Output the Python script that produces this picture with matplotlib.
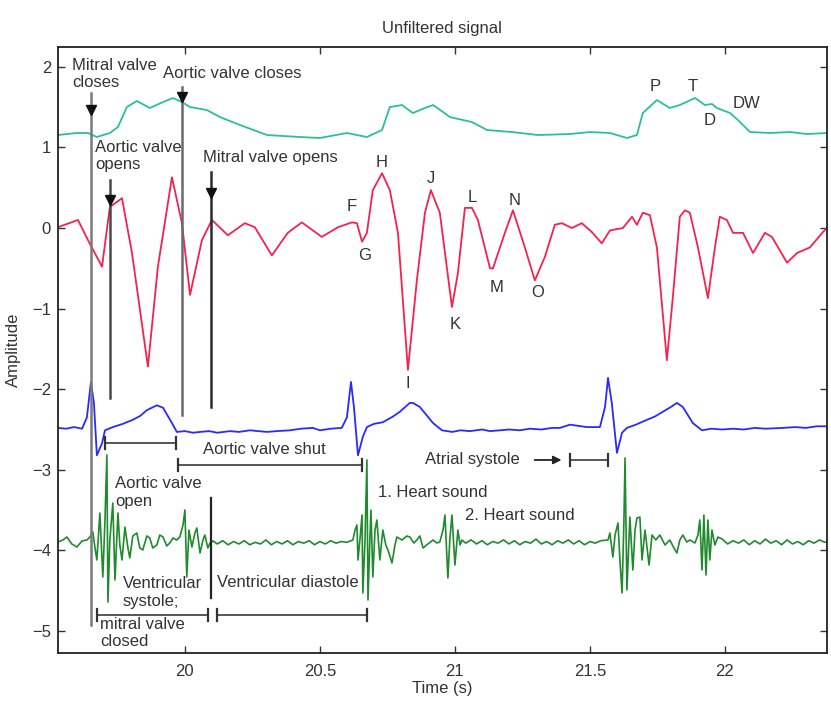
import matplotlib
matplotlib.use('Agg')
import matplotlib.pyplot as plt

plt.rcParams['font.family'] = ['Liberation Sans', 'DejaVu Sans']
plt.rcParams['font.size'] = 12

# ---------------- data ----------------
# upper (cyan) trace
press_t = [19.530, 19.600, 19.641, 19.674, 19.722, 19.752, 19.785, 19.822, 19.870, 19.919,
           19.956, 19.989, 20.019, 20.081, 20.130, 20.204, 20.304, 20.426, 20.500, 20.600,
           20.674, 20.730, 20.759, 20.804, 20.844, 20.889, 20.919, 20.956, 20.981, 21.063,
           21.119, 21.211, 21.307, 21.426, 21.500, 21.574, 21.637, 21.674, 21.696, 21.748,
           21.796, 21.833, 21.889, 21.926, 21.952, 21.970, 22.019, 22.056, 22.093, 22.167,
           22.241, 22.304, 22.378]
press_v = [1.154, 1.179, 1.179, 1.129, 1.179, 1.253, 1.501, 1.576, 1.489, 1.563,
           1.613, 1.563, 1.501, 1.464, 1.377, 1.278, 1.154, 1.129, 1.117, 1.179,
           1.129, 1.216, 1.501, 1.526, 1.427, 1.489, 1.526, 1.439, 1.377, 1.315,
           1.216, 1.191, 1.154, 1.166, 1.191, 1.179, 1.117, 1.154, 1.427, 1.588,
           1.489, 1.526, 1.613, 1.526, 1.539, 1.489, 1.427, 1.315, 1.191, 1.179,
           1.191, 1.166, 1.179]

# red trace
scg_t = [19.530, 19.604, 19.641, 19.693, 19.722, 19.767, 19.804, 19.863, 19.900, 19.952,
         19.989, 20.019, 20.063, 20.100, 20.159, 20.222, 20.259, 20.322, 20.381, 20.433,
         20.507, 20.567, 20.619, 20.637, 20.656, 20.674, 20.696, 20.730, 20.759, 20.789,
         20.826, 20.859, 20.889, 20.911, 20.944, 20.989, 21.011, 21.037, 21.063, 21.085,
         21.130, 21.141, 21.185, 21.215, 21.259, 21.296, 21.333, 21.370, 21.396, 21.433,
         21.470, 21.507, 21.544, 21.574, 21.622, 21.656, 21.674, 21.696, 21.722, 21.748,
         21.785, 21.807, 21.833, 21.852, 21.870, 21.900, 21.937, 21.963, 21.981, 22.007,
         22.030, 22.067, 22.104, 22.148, 22.174, 22.230, 22.267, 22.315, 22.363, 22.378]
scg_v = [0.01, 0.10, -0.15, -0.48, 0.26, 0.37, -0.31, -1.72, -0.48, 0.63,
         0.06, -0.83, -0.15, 0.10, -0.09, 0.06, 0.01, -0.34, -0.06, 0.07,
         -0.11, 0.01, 0.07, 0.06, -0.17, -0.06, 0.47, 0.68, 0.47, -0.06,
         -1.76, -0.65, 0.19, 0.47, 0.19, -0.98, -0.56, 0.25, 0.25, 0.10,
         -0.50, -0.50, -0.06, 0.22, -0.24, -0.65, -0.36, 0.04, 0.06, 0.00,
         0.06, -0.05, -0.19, -0.03, 0.00, 0.14, 0.04, 0.19, 0.16, -0.24,
         -1.64, -0.86, 0.14, 0.22, 0.19, -0.24, -0.87, -0.24, 0.14, 0.10,
         -0.06, -0.06, -0.31, -0.06, -0.11, -0.43, -0.31, -0.24, -0.05, 0.00]

# blue trace (ECG)
ecg_t = [19.530, 19.560, 19.590, 19.619, 19.637, 19.652, 19.663, 19.674, 19.693, 19.704,
         19.733, 19.770, 19.807, 19.835, 19.859, 19.896, 19.919, 19.952, 19.970, 20.000,
         20.030, 20.056, 20.090, 20.120, 20.167, 20.200, 20.240, 20.304, 20.340, 20.389,
         20.430, 20.474, 20.500, 20.540, 20.581, 20.600, 20.615, 20.626, 20.641, 20.659,
         20.674, 20.700, 20.733, 20.770, 20.796, 20.833, 20.844, 20.870, 20.919, 20.952,
         20.990, 21.020, 21.056, 21.100, 21.130, 21.167, 21.200, 21.240, 21.278, 21.320,
         21.360, 21.389, 21.426, 21.489, 21.537, 21.556, 21.567, 21.581, 21.600, 21.619,
         21.637, 21.670, 21.711, 21.740, 21.770, 21.800, 21.822, 21.844, 21.881, 21.915,
         21.950, 21.990, 22.030, 22.070, 22.110, 22.150, 22.215, 22.260, 22.300, 22.340,
         22.378]
ecg_v = [-2.48, -2.49, -2.47, -2.49, -2.35, -1.91, -2.17, -2.82, -2.67, -2.51,
         -2.47, -2.43, -2.38, -2.33, -2.26, -2.20, -2.23, -2.42, -2.53, -2.52,
         -2.54, -2.53, -2.52, -2.54, -2.52, -2.53, -2.51, -2.53, -2.52, -2.51,
         -2.49, -2.48, -2.51, -2.49, -2.48, -2.35, -1.91, -2.22, -2.82, -2.59,
         -2.47, -2.43, -2.41, -2.34, -2.28, -2.17, -2.17, -2.22, -2.42, -2.51,
         -2.53, -2.51, -2.52, -2.50, -2.52, -2.51, -2.50, -2.51, -2.49, -2.50,
         -2.48, -2.48, -2.44, -2.47, -2.47, -2.22, -1.86, -2.17, -2.79, -2.54,
         -2.48, -2.44, -2.38, -2.34, -2.28, -2.22, -2.17, -2.22, -2.42, -2.51,
         -2.49, -2.50, -2.49, -2.50, -2.48, -2.49, -2.48, -2.47, -2.48, -2.46,
         -2.46]

# green trace (heart sounds), in segments
pcg_a_t = [19.530, 19.548, 19.563, 19.581, 19.600, 19.619, 19.637, 19.648, 19.659, 19.667,
           19.674, 19.685, 19.696, 19.704, 19.711, 19.715, 19.722, 19.733, 19.741, 19.752,
           19.759, 19.767, 19.778, 19.789, 19.796, 19.807, 19.822, 19.833, 19.844, 19.859,
           19.870, 19.881, 19.896, 19.907, 19.919, 19.933, 19.944, 19.956, 19.970, 19.981,
           19.993, 20.000, 20.007, 20.015, 20.026, 20.037, 20.044, 20.056, 20.067, 20.074,
           20.085, 20.093, 20.104]
pcg_a_v = [-3.896, -3.871, -3.834, -3.920, -3.958, -3.883, -3.871, -3.834, -3.772, -3.970,
           -4.119, -3.536, -4.330, -3.623, -2.816, -4.640, -3.871, -3.412, -4.367, -3.536,
           -3.933, -4.119, -3.710, -3.970, -4.094, -3.821, -3.784, -3.970, -3.995, -3.821,
           -3.846, -3.970, -3.933, -3.809, -3.834, -3.945, -3.908, -3.846, -3.871, -3.834,
           -3.685, -3.499, -4.330, -3.747, -3.958, -3.784, -3.722, -4.032, -3.871, -3.809,
           -3.970, -3.908, -3.883]
pcg_b_t = [20.12, 20.14, 20.16, 20.18, 20.20, 20.22, 20.24, 20.26, 20.28, 20.30,
           20.32, 20.34, 20.36, 20.38, 20.40, 20.42, 20.44, 20.46, 20.48, 20.50,
           20.52, 20.54, 20.56, 20.58, 20.60]
pcg_b_v = [-3.92, -3.88, -3.93, -3.89, -3.92, -3.88, -3.93, -3.90, -3.92, -3.87,
           -3.93, -3.89, -3.92, -3.88, -3.93, -3.89, -3.91, -3.88, -3.93, -3.89,
           -3.92, -3.88, -3.91, -3.89, -3.90]
pcg_c_t = [20.622, 20.630, 20.637, 20.641, 20.648, 20.656, 20.659, 20.667, 20.674, 20.678,
           20.685, 20.689, 20.696, 20.704, 20.711, 20.722, 20.733, 20.744, 20.752, 20.767,
           20.778, 20.785, 20.804, 20.822, 20.833, 20.848, 20.859, 20.870, 20.882, 20.900,
           20.919, 20.933, 20.944,
           20.956, 20.963, 20.974, 20.981, 20.989, 21.000, 21.011, 21.019, 21.026]
pcg_c_v = [-3.871, -3.747, -3.685, -4.119, -3.871, -3.561, -4.528, -3.871, -2.878, -4.615,
           -3.871, -3.499, -4.330, -3.747, -3.623, -4.119, -3.747, -3.933, -3.995, -4.156,
           -3.933, -3.834, -3.871, -3.821, -3.834, -3.908, -3.871, -3.821, -3.970, -3.920,
           -3.871, -3.908, -3.896,
           -3.747, -3.561, -4.342, -3.871, -3.561, -4.181, -3.747, -3.933, -3.871]
pcg_d_t = [21.04, 21.06, 21.08, 21.10, 21.12, 21.14, 21.16, 21.18, 21.20, 21.22,
           21.24, 21.26, 21.28, 21.30, 21.32, 21.34, 21.36, 21.38, 21.40, 21.42,
           21.44, 21.46, 21.48, 21.50, 21.52, 21.54]
pcg_d_v = [-3.91, -3.87, -3.92, -3.88, -3.93, -3.89, -3.91, -3.87, -3.92, -3.88,
           -3.93, -3.89, -3.91, -3.86, -3.92, -3.89, -3.93, -3.88, -3.91, -3.87,
           -3.92, -3.88, -3.93, -3.89, -3.91, -3.88]
pcg_e_t = [21.567, 21.574, 21.585, 21.593, 21.604, 21.611, 21.619, 21.626, 21.630, 21.637,
           21.648, 21.659, 21.667, 21.674, 21.685, 21.693, 21.704, 21.719, 21.730, 21.744,
           21.759, 21.778, 21.796, 21.811, 21.822, 21.833, 21.844, 21.859, 21.870, 21.889,
           21.900, 21.907, 21.915, 21.922, 21.930, 21.937, 21.944, 21.952, 21.963, 21.974]
pcg_e_v = [-3.871, -3.784, -4.082, -3.809, -3.660, -4.119, -4.528, -3.623, -2.853, -4.491,
           -3.586, -4.243, -3.747, -3.598, -3.586, -4.119, -3.747, -4.181, -3.809, -3.871,
           -3.809, -3.933, -3.871, -3.970, -4.032, -3.871, -3.809, -3.896, -3.871, -3.908,
           -3.809, -3.623, -4.243, -3.561, -4.305, -3.623, -4.119, -3.747, -3.933, -3.834]
pcg_f_t = [21.99, 22.01, 22.03, 22.05, 22.07, 22.09, 22.11, 22.13, 22.15, 22.17,
           22.19, 22.21, 22.23, 22.25, 22.27, 22.29, 22.31, 22.33, 22.35, 22.37, 22.38]
pcg_f_v = [-3.86, -3.92, -3.88, -3.91, -3.87, -3.93, -3.88, -3.92, -3.86, -3.91,
           -3.88, -3.93, -3.87, -3.92, -3.89, -3.93, -3.88, -3.91, -3.87, -3.90, -3.89]

# valve event markers (time, top, bottom, arrow-head level)
valve_labels = ['Mitral valve\ncloses', 'Aortic valve\nopens', 'Aortic valve closes', 'Mitral valve opens']
valve_t = [19.652, 19.722, 19.989, 20.096]
valve_top = [1.675, 0.596, 1.750, 0.695]
valve_bottom = [-4.925, -2.109, -2.320, -2.221]
valve_head = [1.46, 0.35, 1.63, 0.44]

# wave labels on traces
wave_labels = ['F', 'G', 'H', 'I', 'J', 'K', 'L', 'M', 'N', 'O', 'P', 'T', 'D', 'DW']
wave_t = [20.619, 20.667, 20.730, 20.826, 20.911, 21.000, 21.063, 21.156, 21.222, 21.307,
          21.741, 21.881, 21.944, 22.081]
wave_v = [0.261, -0.335, 0.819, -1.923, 0.620, -1.203, 0.384, -0.744, 0.347, -0.806,
          1.750, 1.750, 1.340, 1.551]

# interval brackets (start, end, level)
bracket_t0 = [19.704, 19.974, 21.426, 19.674, 20.119]
bracket_t1 = [19.967, 20.656, 21.567, 20.085, 20.674]
bracket_v = [-2.667, -2.940, -2.878, -4.801, -4.801]

x_ticks = [20, 20.5, 21, 21.5, 22]
x_tick_labels = ['20', '20.5', '21', '21.5', '22']
y_ticks = [-5, -4, -3, -2, -1, 0, 1, 2]

# ---------------- figure ----------------
W, H = 831, 702
fig = plt.figure(figsize=(W / 100, H / 100), dpi=100)
ax = fig.add_axes([58 / W, 1 - 653 / H, (827 - 58) / W, (653 - 47) / H])
ax.set_xlim(19.530, 22.378)
ax.set_ylim(-5.273, 2.246)

# valve lines with arrow heads
line_cols = ['#7a7a7a', '#4a4a4a', '#6a6a6a', '#2a2a2a']
for t, top, bot, hd, c in zip(valve_t, valve_top, valve_bottom, valve_head, line_cols):
    ax.plot([t, t], [top, bot], color=c, lw=1.8, zorder=3)
    ax.plot([t], [hd], marker='v', color='#111111', ms=7, zorder=4)
# divider between systole and diastole
ax.plot([20.096, 20.096], [-3.35, -4.59], color='#222222', lw=1.6, zorder=3)

# signals
ax.plot(press_t, press_v, color='#2bbf9c', lw=1.3, zorder=2)
ax.plot(scg_t, scg_v, color='#f5224f', lw=1.3, zorder=2)
ax.plot(ecg_t, ecg_v, color='#2a2aff', lw=1.3, zorder=2)
pcg_t = pcg_a_t + pcg_b_t + pcg_c_t + pcg_d_t + pcg_e_t + pcg_f_t
pcg_v = pcg_a_v + pcg_b_v + pcg_c_v + pcg_d_v + pcg_e_v + pcg_f_v
ax.plot(pcg_t, pcg_v, color='#1f8a2e', lw=1.2, zorder=2)

# brackets
for t0, t1, v in zip(bracket_t0, bracket_t1, bracket_v):
    ax.plot([t0, t1], [v, v], color='#555555', lw=1.4, zorder=3)
    for tt in (t0, t1):
        ax.plot([tt, tt], [v - 0.075, v + 0.075], color='#333333', lw=1.6, zorder=3)

# arrow to atrial systole bracket
ax.annotate('', xy=(21.405, -2.878), xytext=(21.285, -2.878),
            arrowprops=dict(arrowstyle='-|>', color='#222222', lw=1.3, mutation_scale=12))

txt = dict(color='#333333', fontsize=12, ha='left', va='center', linespacing=1.22)
ax.text(19.582, 1.911, valve_labels[0], **txt)
ax.text(19.667, 0.893, valve_labels[1], **txt)
ax.text(19.919, 1.923, valve_labels[2], **txt)
ax.text(20.067, 0.881, valve_labels[3], **txt)
ax.text(20.067, -2.754, 'Aortic valve shut', **txt)
ax.text(19.741, -3.282, 'Aortic valve\nopen', **txt)
ax.text(20.715, -3.276, '1. Heart sound', **txt)
ax.text(21.037, -3.561, '2. Heart sound', **txt)
ax.text(20.889, -2.878, 'Atrial systole', **txt)
ax.text(19.770, -4.522, 'Ventricular\nsystole;', **txt)
ax.text(20.119, -4.404, 'Ventricular diastole', **txt)
ax.text(19.685, -5.025, 'mitral valve\nclosed', **txt)

for lab, t, v in zip(wave_labels, wave_t, wave_v):
    ax.text(t, v, lab, color='#333333', fontsize=12, ha='center', va='center')

ax.set_xticks(x_ticks)
ax.set_xticklabels(x_tick_labels)
ax.set_yticks(y_ticks)
ax.tick_params(direction='in', top=True, right=True, length=5, width=1,
               labelsize=12, colors='#333333')
ax.tick_params(axis='x', pad=8)
ax.tick_params(axis='y', pad=5)
for s in ax.spines.values():
    s.set_linewidth(1.3)
    s.set_color('#222222')

fig.text(442 / W, 1 - 28 / H, 'Unfiltered signal', ha='center', va='center', fontsize=12, color='#333333')
fig.text(442 / W, 1 - 689 / H, 'Time (s)', ha='center', va='center', fontsize=12, color='#333333')
fig.text(13 / W, 1 - 350 / H, 'Amplitude', ha='center', va='center', rotation=90, fontsize=12, color='#333333')

fig.savefig('out.png', dpi=100)
